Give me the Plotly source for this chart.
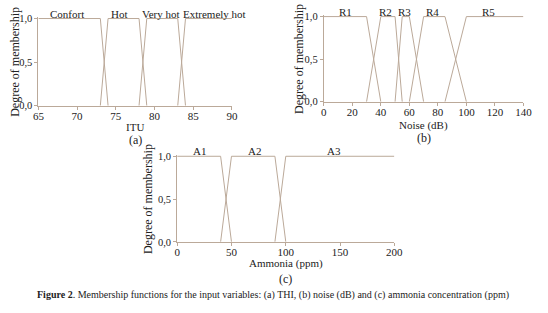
import plotly.graph_objects as go

W, H = 548, 313

# ---- Data (membership functions) ----
# (a) THI / ITU
itu_labels = ["Confort", "Hot", "Very hot", "Extremely hot"]
itu_x = [[65, 73, 74], [73, 74, 78, 79], [78, 79, 83, 84], [83, 84, 90]]
itu_y = [[1, 1, 0], [0, 1, 1, 0], [0, 1, 1, 0], [0, 1, 1]]
itu_label_pos = [68.7, 75.5, 80.8, 87.8]

# (b) Noise (dB)
noise_labels = ["R1", "R2", "R3", "R4", "R5"]
noise_x = [[0, 30, 40], [30, 40, 50, 55], [50, 55, 60, 70], [60, 70, 85, 100], [85, 100, 140]]
noise_y = [[1, 1, 0], [0, 1, 1, 0], [0, 1, 1, 0], [0, 1, 1, 0], [0, 1, 1]]
noise_label_pos = [15, 43, 56.5, 76, 115.5]

# (c) Ammonia (ppm)
amm_labels = ["A1", "A2", "A3"]
amm_x = [[0, 40, 50], [40, 50, 90, 100], [90, 100, 200]]
amm_y = [[1, 1, 0], [0, 1, 1, 0], [0, 1, 1]]
amm_label_pos = [21, 71, 144]

y_tickvals = [0, 0.5, 1]
y_ticktext = ["0,0", "0,5", "1,0"]

LINE = "#bba999"
FONT = "Liberation Serif, Times New Roman, DejaVu Serif, serif"
TXT = "#222222"


def xdom(p0, p1):
    return [p0 / W, p1 / W]


def ydom(p_zero, p_one, top_ext=0.02):
    ppu = p_zero - p_one
    top = p_one - ppu * top_ext
    return [1 - p_zero / H, 1 - top / H]


fig = go.Figure()

panels = [
    dict(xs=itu_x, ys=itu_y, labels=itu_labels, lpos=itu_label_pos, xa="x", ya="y",
         xrange=[65, 90], dtick=5, xpx=(33.3, 232.3), ypx=(105, 15),
         xtitle="ITU", sub="(a)", xt_y=127, sub_y=140, ytitle_x=9),
    dict(xs=noise_x, ys=noise_y, labels=noise_labels, lpos=noise_label_pos, xa="x2", ya="y2",
         xrange=[0, 140], dtick=20, xpx=(326.7, 532), ypx=(101, 13),
         xtitle="Noise (dB)", sub="(b)", xt_y=126, sub_y=138, ytitle_x=301),
    dict(xs=amm_x, ys=amm_y, labels=amm_labels, lpos=amm_label_pos, xa="x3", ya="y3",
         xrange=[0, 200], dtick=50, xpx=(176, 399.3), ypx=(245.7, 157.3),
         xtitle="Ammonia (ppm)", sub="(c)", xt_y=268, sub_y=284, ytitle_x=146),
]

annotations = []
layout_axes = {}
for i, p in enumerate(panels):
    for xs, ys in zip(p["xs"], p["ys"]):
        fig.add_trace(go.Scatter(x=xs, y=ys, mode="lines", xaxis=p["xa"], yaxis=p["ya"],
                                 line=dict(color=LINE, width=1), showlegend=False,
                                 hoverinfo="skip"))
    xk = "xaxis" if i == 0 else f"xaxis{i+1}"
    yk = "yaxis" if i == 0 else f"yaxis{i+1}"
    layout_axes[xk] = dict(domain=xdom(*p["xpx"]), range=p["xrange"], dtick=p["dtick"],
                           tick0=p["xrange"][0], anchor=p["ya"], showgrid=False, zeroline=False,
                           showline=True, linecolor=LINE, linewidth=1, ticks="outside",
                           ticklen=3, tickcolor=LINE, ticklabelstandoff=-3,
                           tickfont=dict(family=FONT, size=11, color=TXT))
    layout_axes[yk] = dict(domain=ydom(*p["ypx"]), range=[0, 1.02], anchor=p["xa"],
                           tickvals=y_tickvals, ticktext=y_ticktext, showgrid=False, zeroline=False,
                           showline=True, linecolor=LINE, linewidth=1, ticks="outside",
                           ticklen=3, tickcolor=LINE,
                           tickfont=dict(family=FONT, size=10.5, color=TXT))
    for lab, xp in zip(p["labels"], p["lpos"]):
        annotations.append(dict(text=lab, x=xp, y=1, xref=p["xa"], yref=p["ya"],
                                xanchor="center", yanchor="bottom", yshift=-3, showarrow=False,
                                font=dict(family=FONT, size=11, color=TXT)))
    cx = (p["xpx"][0] + p["xpx"][1]) / 2 / W
    annotations.append(dict(text=p["xtitle"], x=cx, y=1 - p["xt_y"] / H, xref="paper", yref="paper",
                            xanchor="center", yanchor="middle", showarrow=False,
                            font=dict(family=FONT, size=11, color=TXT)))
    annotations.append(dict(text=p["sub"], x=cx, y=1 - p["sub_y"] / H, xref="paper", yref="paper",
                            xanchor="center", yanchor="middle", showarrow=False,
                            font=dict(family=FONT, size=12, color=TXT)))
    cy = 1 - (p["ypx"][0] + p["ypx"][1]) / 2 / H
    annotations.append(dict(text="Degree of membership", x=p["ytitle_x"] / W, y=cy,
                            xref="paper", yref="paper", textangle=-90, showarrow=False,
                            xanchor="center", yanchor="middle",
                            font=dict(family=FONT, size=12, color=TXT)))

annotations.append(dict(text="<b>Figure 2</b>. Membership functions for the input variables: (a) THI, "
                             "(b) noise (dB) and (c) ammonia concentration (ppm)",
                        x=274 / W, y=1 - 301 / H, xref="paper", yref="paper", showarrow=False,
                        xanchor="center", yanchor="middle",
                        font=dict(family=FONT, size=10, color=TXT)))

fig.update_layout(width=W, height=H, margin=dict(l=0, r=0, t=0, b=0),
                  paper_bgcolor="white", plot_bgcolor="white",
                  font=dict(family=FONT, color=TXT),
                  annotations=annotations, **layout_axes)

fig.write_html("out.html", config={"displayModeBar": False},
               post_script="document.body.style.margin='0px';document.body.style.padding='0px';")
